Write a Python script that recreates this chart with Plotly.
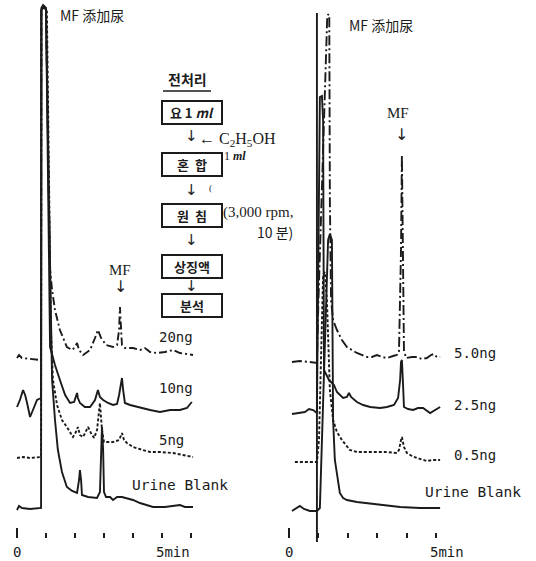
import plotly.graph_objects as go

W, H = 536, 561
INK = "#1b1b1b"

# ---------------- data (time in min, response in arbitrary units above baseline) ----------------
# Left chromatogram set
L20_t = [0.00, 0.07, 0.17, 0.45, 0.83, 0.84, 0.93, 1.00, 1.14, 1.21, 1.31, 1.48, 1.72, 1.90, 2.00, 2.07, 2.14, 2.28,
         2.52, 2.69, 2.79, 2.90, 3.07, 3.31, 3.45, 3.52, 3.55, 3.59, 3.62, 3.72, 4.00, 4.24, 4.41, 4.59, 4.83, 5.10,
         5.38, 5.62, 6.07]
L20_s = [-1, 2, -1, -2, -3, 347, 350, 347, 87, 67, 47, 27, 10, 7, 10, 14, 7, 2,
         7, 19, 27, 19, 12, 10, 12, 27, 50, 27, 12, 9, 9, 7, 9, 5, 4, 5,
         7, 4, 2]

L10_t = [0.00, 0.10, 0.21, 0.28, 0.34, 0.45, 0.55, 0.69, 0.83, 0.84, 0.93, 1.00, 1.14, 1.31, 1.48, 1.66, 1.83, 1.97,
         2.07, 2.10, 2.17, 2.34, 2.52, 2.69, 2.79, 2.86, 2.97, 3.14, 3.31, 3.45, 3.52, 3.59, 3.62, 3.66, 3.72, 3.90,
         4.14, 4.34, 4.59, 4.93, 5.28, 5.62, 5.86, 5.97, 6.03]
L10_s = [0, 7, 17, 12, 5, -10, -3, 7, 9, 397, 400, 397, 60, 42, 27, 12, 4, 5,
         14, 9, 4, 0, 0, 7, 17, 10, 7, 4, 2, 3, 12, 27, 29, 17, 4, 2,
         0, -1, -3, -5, -3, -3, -1, 3, 5]

L5_t = [0.00, 0.21, 0.45, 0.83, 0.84, 0.93, 1.03, 1.17, 1.24, 1.38, 1.55, 1.72, 1.93, 2.03, 2.10, 2.17, 2.28, 2.38,
        2.45, 2.55, 2.66, 2.76, 2.86, 2.93, 3.00, 3.31, 3.52, 3.62, 3.69, 3.79, 4.00, 4.34, 4.59, 4.93, 5.38, 5.72,
        6.07]
L5_s = [-1, 0, -1, 0, 447, 450, 447, 127, 77, 52, 37, 30, 20, 25, 30, 22, 20, 27,
        30, 24, 19, 27, 54, 27, 15, 15, 17, 24, 17, 14, 10, 7, 5, 5, 4, 2,
        0]

LB_t = [0.00, 0.07, 0.17, 0.45, 0.83, 0.84, 0.90, 1.00, 1.10, 1.21, 1.31, 1.41, 1.55, 1.72, 1.90, 2.07, 2.14, 2.17,
        2.21, 2.24, 2.45, 2.76, 2.86, 2.90, 2.93, 2.97, 3.00, 3.07, 3.21, 3.31, 3.45, 3.62, 3.79, 4.00, 4.24, 4.48,
        4.69, 5.10, 5.45, 5.62, 5.79, 6.07]
LB_s = [-2, 2, 0, -1, 0, 500, 503, 500, 308, 128, 88, 58, 36, 21, 17, 15, 28, 38,
        28, 13, 11, 10, 16, 58, 81, 58, 16, 11, 11, 8, 11, 11, 10, 8, 5, 3,
        1, 1, 2, 3, 1, 1]

left_offsets = [151, 101, 51, 0]          # 20ng, 10ng, 5ng, Urine Blank
left_labels = ["20ng", "10ng", "5ng", "Urine Blank"]

# Right chromatogram set
R50_t = [0.10, 0.37, 0.71, 0.95, 1.00, 1.30, 1.34, 1.37, 1.39, 1.43, 1.50, 1.63, 1.80, 1.97, 2.31, 2.65, 2.82, 2.99,
         3.16, 3.33, 3.54, 3.67, 3.74, 3.81, 3.84, 3.88, 3.91, 3.98, 4.18, 4.35, 4.52, 4.69, 4.83, 4.93, 5.03, 5.14]
R50_s = [0, 1, 0, -1, 60, 345, 348, 345, 162, 62, 42, 32, 22, 15, 9, 5, 5, 7,
         5, 4, 6, 7, 9, 112, 207, 112, 12, 4, 5, 5, 3, 4, 7, 8, 5, 5]

R25_t = [0.10, 0.31, 0.54, 0.68, 0.82, 0.95, 1.05, 1.12, 1.16, 1.19, 1.36, 1.53, 1.63, 1.84, 1.97, 2.04, 2.11, 2.31,
         2.52, 2.76, 3.10, 3.33, 3.57, 3.71, 3.78, 3.81, 3.84, 3.88, 3.91, 4.05, 4.22, 4.39, 4.56, 4.80, 4.97, 5.14]
R25_s = [-2, -1, 0, 3, 2, -1, 315, 316, 292, 42, 32, 27, 20, 14, 15, 19, 15, 10,
         7, 5, 4, 5, 7, 14, 32, 50, 52, 27, 5, 3, 2, 4, 4, -1, 2, 5]

R05_t = [0.20, 0.54, 0.95, 1.02, 1.16, 1.22, 1.29, 1.39, 1.50, 1.63, 1.80, 2.07, 2.31, 2.76, 3.27, 3.67, 3.74, 3.81,
         3.84, 3.91, 4.01, 4.18, 4.35, 4.69, 4.90, 5.14]
R05_s = [-1, -1, -1, 21, 186, 189, 161, 71, 41, 29, 21, 11, 9, 9, 9, 8, 11, 21,
         24, 14, 8, 5, 3, 0, 1, 1]

RB_t = [0.10, 0.27, 0.37, 0.51, 0.71, 0.95, 1.05, 1.33, 1.39, 1.46, 1.50, 1.56, 1.63, 1.73, 1.84, 1.97, 2.31, 2.65,
        3.27, 3.78, 4.46, 5.14]
RB_s = [-1, 2, 4, 1, -1, -1, 2, 270, 276, 270, 90, 50, 35, 17, 12, 10, 8, 7,
        5, 3, 2, 2]

right_offsets = [146, 96, 47, -2]         # 5.0ng, 2.5ng, 0.5ng, Urine Blank
right_labels = ["5.0ng", "2.5ng", "0.5ng", "Urine Blank"]

# injection mark of the right record (time, lower and upper pen level)
inj_t = [0.95, 0.95]
inj_y = [-34, 495]

tick_major = [0]
tick_minor_left = [1, 2, 3, 4, 5, 6]
tick_minor_right = [1, 2, 3, 4, 5]

# ---------------- figure ----------------
fig = go.Figure()

left_series = [(L20_t, L20_s, "8px,3px,2px,3px"), (L10_t, L10_s, "solid"),
               (L5_t, L5_s, "3px,2px"), (LB_t, LB_s, "solid")]
right_series = [(R50_t, R50_s, "10px,3px,2px,3px"), (R25_t, R25_s, "solid"),
                (R05_t, R05_s, "3px,2px"), (RB_t, RB_s, "solid")]

for (t, s, dash), off, name in zip(left_series, left_offsets, left_labels):
    fig.add_trace(go.Scatter(x=t, y=[off + v for v in s], mode="lines", name=name,
                             line=dict(color=INK, width=1.9, dash=dash),
                             xaxis="x", yaxis="y", showlegend=False, hoverinfo="skip"))

for (t, s, dash), off, name in zip(right_series, right_offsets, right_labels):
    fig.add_trace(go.Scatter(x=t, y=[off + v for v in s], mode="lines", name=name,
                             line=dict(color=INK, width=1.9, dash=dash),
                             xaxis="x2", yaxis="y", showlegend=False, hoverinfo="skip"))

fig.add_trace(go.Scatter(x=inj_t, y=inj_y, mode="lines", line=dict(color=INK, width=1.9),
                         xaxis="x2", yaxis="y", showlegend=False, hoverinfo="skip"))

axis_pos = (H - 538) / H
common_x = dict(showgrid=False, zeroline=False, showline=False, showticklabels=False,
                ticks="inside", ticklen=10, tickwidth=2, tickcolor=INK, tickmode="array",
                anchor="free", position=axis_pos)
fig.update_layout(
    xaxis=dict(domain=[0, 0.5], range=[-17 / 29, (268 - 17) / 29], tickvals=tick_major,
               minor=dict(tickmode="array", tickvals=tick_minor_left, ticks="inside", ticklen=5,
                          tickwidth=2, tickcolor=INK, showgrid=False), **common_x),
    xaxis2=dict(domain=[0.5, 1], range=[(268 - 289) / 29.4, (536 - 289) / 29.4], tickvals=tick_major,
                minor=dict(tickmode="array", tickvals=tick_minor_right, ticks="inside", ticklen=5,
                           tickwidth=2, tickcolor=INK, showgrid=False), **common_x),
    yaxis=dict(domain=[0, 1], range=[-53, 508], visible=False, fixedrange=True),
    width=W, height=H, margin=dict(l=0, r=0, t=0, b=0),
    paper_bgcolor="white", plot_bgcolor="white", showlegend=False,
)

MONO = "DejaVu Sans Mono"
SERIF = "Liberation Serif"
SANS = "DejaVu Sans"
CJK = "Noto Sans CJK JP"
KR = "Noto Sans CJK KR"


def ann(text, x, y, size=13, family=MONO, xanchor="center", **kw):
    fig.add_annotation(text=text, x=x / W, y=1 - y / H, xref="paper", yref="paper", showarrow=False,
                       xanchor=xanchor, yanchor="middle", font=dict(size=size, family=family, color=INK), **kw)


# panel titles and peak markers
ann("MF 添加尿", 92, 15, size=14, family=CJK)
ann("MF 添加尿", 381, 25, size=14, family=CJK)
ann("MF", 120, 270, size=15, family=SERIF)
ann("↓", 120, 286, size=16, family=SANS)
ann("MF", 398, 113, size=15, family=SERIF)
ann("↓", 401, 135, size=16, family=SANS)

# trace labels
for lab, xy in zip(left_labels, [(157, 337), (157, 388), (157, 440), (130, 485)]):
    ann(lab, xy[0], xy[1], size=14.5 if lab == "Urine Blank" else 14, xanchor="left")
for lab, xy in zip(right_labels, [(452, 353), (452, 405), (452, 455), (423, 492)]):
    ann(lab, xy[0], xy[1], size=14.5 if lab == "Urine Blank" else 14, xanchor="left")

# time axis labels
ann("0", 17, 552, size=14)
ann("5min", 154, 552, size=14, xanchor="left")
ann("0", 289, 552, size=14)
ann("5min", 428, 552, size=14, xanchor="left")

# pretreatment flow chart
ann("<b>전처리</b>", 187, 79, size=14, family=KR)
fig.add_shape(type="line", xref="paper", yref="paper", x0=163 / W, x1=211 / W, y0=1 - 91 / H, y1=1 - 91 / H,
              line=dict(color=INK, width=1.5))
boxes = ["<b>요 1 <i>ml</i></b>", "<b>혼  합</b>", "<b>원  침</b>", "<b>상징액</b>", "<b>분석</b>"]
box_y = [112, 164, 215, 266, 305]
for txt, yy in zip(boxes, box_y):
    ann(txt, 191.5, yy, size=13, family=KR, bordercolor=INK, borderwidth=2, borderpad=1,
        width=56, height=19, align="center")
for yy in [136, 190, 240, 286]:
    ann("↓", 191, yy, size=15, family=SANS)
ann("← C<sub>2</sub>H<sub>5</sub>OH", 197, 139, size=16, family=SERIF, xanchor="left")
ann("1 <b><i>ml</i></b>", 222, 156, size=12, family=SERIF, xanchor="left")
ann("(", 210, 188, size=9, family=SERIF)
ann("(3,000 rpm,", 221, 213, size=15, family=SERIF, xanchor="left")
ann("10 분)", 255, 232, size=14, family=KR, xanchor="left")

fig.write_html("out.html", config={"displayModeBar": False},
               post_script="document.body.style.margin='0';document.body.style.padding='0';")
